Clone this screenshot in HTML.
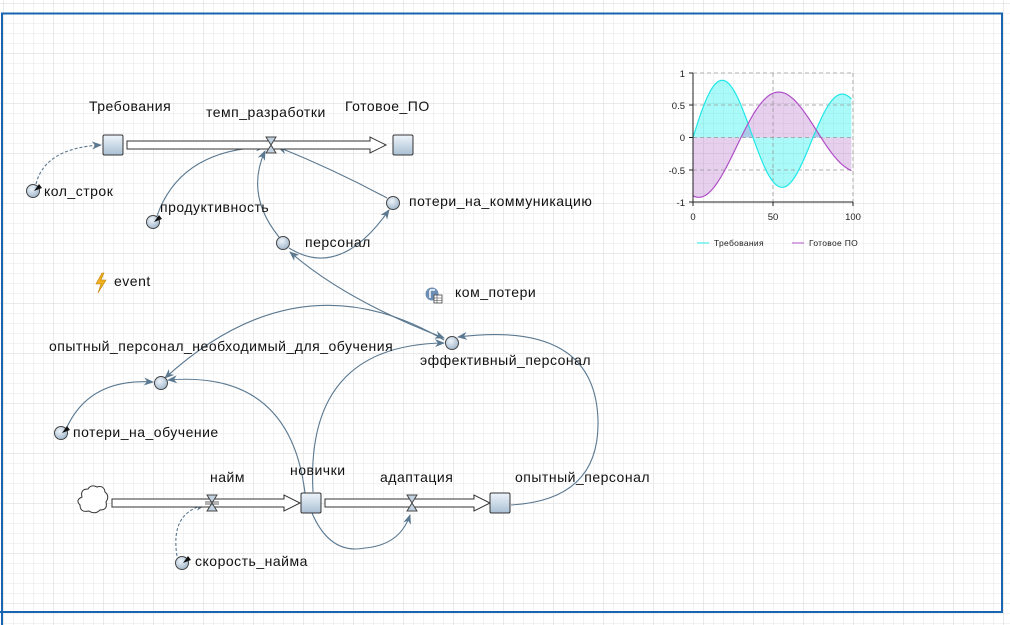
<!DOCTYPE html>
<html><head><meta charset="utf-8"><style>
html,body{margin:0;padding:0;background:#fff;}
svg{display:block;}
text{font-family:"Liberation Sans","DejaVu Sans",sans-serif;}
</style></head><body>
<svg id="s" width="1010" height="625" viewBox="0 0 1010 625" xmlns="http://www.w3.org/2000/svg">
<defs>
<pattern id="g" x="3" y="3" width="10" height="10" patternUnits="userSpaceOnUse">
<path d="M0 0H10M0 0V10" stroke="#e6e6e6" stroke-width="1" fill="none"/>
</pattern>
<pattern id="G" x="3" y="3" width="50" height="50" patternUnits="userSpaceOnUse">
<path d="M0 0H50M0 0V50" stroke="#d6d6d6" stroke-width="1" fill="none"/>
</pattern>
<linearGradient id="sb" x1="0" y1="0" x2="0" y2="1"><stop offset="0" stop-color="#eef4fa"/><stop offset="1" stop-color="#a9c0d4"/></linearGradient>
<radialGradient id="cb" cx="0.4" cy="0.35" r="0.7"><stop offset="0" stop-color="#eef4fa"/><stop offset="1" stop-color="#9fb6ca"/></radialGradient>
<marker id="a" markerWidth="10" markerHeight="8" refX="9" refY="4" orient="auto" markerUnits="userSpaceOnUse"><path d="M0 0L10 4L0 8L3 4Z" fill="#5a7890"/></marker>
<marker id="ab" markerWidth="10" markerHeight="8" refX="1" refY="4" orient="auto" markerUnits="userSpaceOnUse"><path d="M10 0L0 4L10 8L7 4Z" fill="#5a7890"/></marker>
</defs>
<rect width="1010" height="625" fill="url(#g)"/>
<rect width="1010" height="625" fill="url(#G)"/>
<path d="M2 625V13.5H1002V612H0" stroke="#1a64b4" stroke-width="2" fill="none"/>

<g fill="none" stroke="#5a7890" stroke-width="1.1">
<path d="M36 184 Q45 148 101 145" stroke-dasharray="3,2" marker-end="url(#a)"/>
<path d="M157 216 Q180 150 265 147" marker-end="url(#a)"/>
<path d="M279 237 Q245 195 265 151" marker-end="url(#a)"/>
<path d="M289 248 Q340 280 389 210" marker-end="url(#a)"/>
<path d="M387 198 Q335 170 278 147" marker-end="url(#a)"/>
<path d="M290 252 Q345 300 444 338" marker-start="url(#ab)" marker-end="url(#a)"/>
<path d="M444 340 Q300 255 165 378" marker-end="url(#a)"/>
<path d="M67 427 Q90 378 153 382" marker-end="url(#a)"/>
<path d="M305 493 Q290 370 168 380" marker-end="url(#a)"/>
<path d="M313 492 Q305 345 444 343" marker-end="url(#a)"/>
<path d="M511 505 Q600 500 598 420 Q595 320 458 337" marker-end="url(#a)"/>
<path d="M312 513 Q330 555 365 548 Q400 545 410 515" marker-end="url(#a)"/>
<path d="M177 556 Q170 512 205 505" stroke-dasharray="3,2" marker-end="url(#a)"/>
</g>

<g fill="#fff" stroke="#333" stroke-width="1">
<path d="M127 141H370V137L386 145L370 153V149H127Z"/>
<path d="M112 499H284V495L300 503L284 511V507H112Z"/>
<path d="M325 499H474V495L490 503L474 511V507H325Z"/>
</g>
<g fill="#c2d2e0" stroke="#444" stroke-width="1">
<path d="M266 137H276L266 153H276Z"/>
<path d="M207 495H217L207 511H217Z"/>
<path d="M407 495H417L407 511H417Z"/>
</g>
<path d="M205 502H219M205 504H219" stroke="#333" stroke-width="0.8"/>
<g fill="url(#sb)" stroke="#333" stroke-width="1">
<rect x="103" y="135" width="20" height="20" rx="1.5"/>
<rect x="393" y="135" width="20" height="20" rx="1.5"/>
<rect x="301" y="493" width="20" height="20" rx="1.5"/>
<rect x="490" y="493" width="20" height="20" rx="1.5"/>
</g>
<g fill="url(#cb)" stroke="#444" stroke-width="1">
<circle cx="33" cy="191" r="6.5"/>
<circle cx="153" cy="222" r="6.5"/>
<circle cx="393" cy="203" r="6.5"/>
<circle cx="283" cy="243" r="6.5"/>
<circle cx="452" cy="343" r="6.5"/>
<circle cx="161" cy="383" r="6.5"/>
<circle cx="61" cy="433" r="6.5"/>
<circle cx="182" cy="563" r="6.5"/>
</g>
<g fill="#111">
<path d="M34 191L39 184L42 188Z"/>
<path d="M154 222L159 215L162 219Z"/>
<path d="M62 433L67 426L70 430Z"/>
<path d="M183 563L188 556L191 560Z"/>
</g>
<path d="M82 497 Q80 489 88 489 Q91 484 97 487 Q104 485 105 492 Q110 496 106 502 Q108 510 100 510 Q95 515 89 511 Q80 513 80 505 Q75 500 82 497Z" fill="#fff" stroke="#333" stroke-width="1"/>
<path d="M102 273L96 284H101L98 293L106 280H101L104 273Z" fill="#f0b020" stroke="#c08000" stroke-width="0.6"/>
<circle cx="432" cy="294" r="6.5" fill="#6d8fb5"/>
<path d="M430 290H435M430 290V298" stroke="#fff" stroke-width="1.5"/>
<rect x="434" y="295" width="8" height="8" fill="#fff" stroke="#444" stroke-width="0.8"/>
<path d="M434 298H442M434 300.5H442M437 295V303" stroke="#444" stroke-width="0.6"/>

<g font-size="14" fill="#111" letter-spacing="0.5">
<text x="89" y="111">Требования</text>
<text x="206" y="117">темп_разработки</text>
<text x="345" y="111">Готовое_ПО</text>
<text x="44" y="196">кол_строк</text>
<text x="160" y="212">продуктивность</text>
<text x="409" y="206">потери_на_коммуникацию</text>
<text x="305" y="247">персонал</text>
<text x="114" y="286">event</text>
<text x="455" y="297">ком_потери</text>
<text x="49" y="351">опытный_персонал_необходимый_для_обучения</text>
<text x="420" y="365">эффективный_персонал</text>
<text x="73" y="437">потери_на_обучение</text>
<text x="210" y="482">найм</text>
<text x="290" y="475">новички</text>
<text x="380" y="482">адаптация</text>
<text x="515" y="482">опытный_персонал</text>
<text x="195" y="566">скорость_найма</text>
</g>

<g id="chart">
<path id="fc" fill="#00f0f0" fill-opacity="0.33" stroke="none"/>
<path id="fp" fill="#b060c8" fill-opacity="0.3" stroke="none"/>
<path d="M693 73H853M693 105H853M693 137.5H853M693 170H853M773 73V202M853 73V202" stroke="#999" stroke-dasharray="4,3" fill="none" stroke-width="0.8"/>
<path id="lc" fill="none" stroke="#20e8e8" stroke-width="1.2"/>
<path id="lp" fill="none" stroke="#b050c8" stroke-width="1.2"/>
<path d="M693 73V205M689 202H853M693 202V206M773 202V206M853 202V206M689 73H693M689 105H693M689 137.5H693M689 170H693" stroke="#222" stroke-width="1" fill="none"/>
<g font-size="9.5" fill="#222" text-anchor="end">
<text x="685" y="77">1</text><text x="685" y="109">0.5</text><text x="685" y="141">0</text><text x="685" y="174">-0.5</text><text x="685" y="206">-1</text>
</g>
<g font-size="9.5" fill="#222" text-anchor="middle">
<text x="693" y="220">0</text><text x="773" y="220">50</text><text x="853" y="220">100</text>
</g>
<path d="M697 243H709" stroke="#20e8e8"/><text x="714" y="246" font-size="8.5" fill="#222" letter-spacing="0.3">Требования</text>
<path d="M792 243H804" stroke="#b050c8"/><text x="809" y="246" font-size="8.5" fill="#222" letter-spacing="0.3">Готовое ПО</text>
</g>
</svg>
<script>
(function(){
function X(t){return 693+t*1.6;}function Y(v){return 137.5-v*64.5;}
var c="",p="";
for(var t=0;t<=99;t+=1){
var vc=0.95*Math.exp(-0.0037*t)*Math.sin(2*Math.PI*t/75);
var vp=-0.95*Math.exp(-0.0055*t)*Math.cos(2*Math.PI*(t-5)/100);
c+=(t?"L":"M")+X(t).toFixed(1)+" "+Y(vc).toFixed(1);
p+=(t?"L":"M")+X(t).toFixed(1)+" "+Y(vp).toFixed(1);
}
document.getElementById("lc").setAttribute("d",c);
document.getElementById("lp").setAttribute("d",p);
var close="L"+X(99)+" 137.5L693 137.5Z";
document.getElementById("fc").setAttribute("d",c+close);
document.getElementById("fp").setAttribute("d",p+close);
})();
</script>
</body></html>
